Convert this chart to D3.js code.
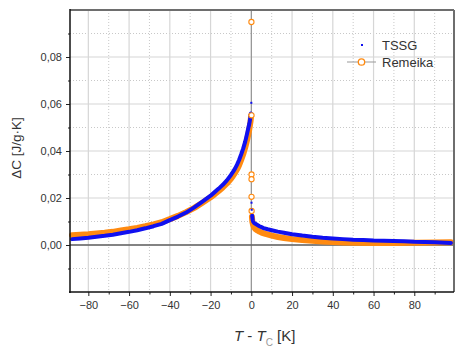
<!DOCTYPE html>
<html>
<head>
<meta charset="utf-8">
<title>Delta C</title>
<script src="https://d3js.org/d3.v7.min.js"></script>
<style>
  body { margin: 0; background: #fff; }
  svg text { font-family: "Liberation Sans", Arial, sans-serif; }
</style>
</head>
<body>
<svg id="canvas" width="463" height="348"></svg>
<script>
// TSSG, main band
var tssgT = [-88,-84,-80,-76,-72,-68,-64,-60,-56,-52,-48,-44,-40,-36,-32,-28,-24,-20,-18,-16,-14,-12,-10,-9,-8,-7,-6,-5,-4,-3,-2.5,-2,-1.5,-1,-0.7,-0.4,-0.2];
var tssgV = [0.0025,0.0028,0.0031,0.0035,0.0039,0.0044,0.0050,0.0056,0.0063,0.0071,0.0080,0.0090,0.0106,0.0121,0.0138,0.0160,0.0185,0.0210,0.0225,0.0240,0.0256,0.0275,0.0298,0.0311,0.0325,0.0342,0.0362,0.0385,0.0410,0.0440,0.0458,0.0477,0.0497,0.0515,0.0530,0.0545,0.0560];
var tssgT2 = [0.4,0.7,1,1.5,2,3,4,5,6,8,10,13,16,20,25,30,35,40,45,50,55,60,65,70,75,80,85,90,95,98];
var tssgV2 = [0.0125,0.0105,0.0098,0.0093,0.0090,0.0085,0.0080,0.0076,0.0072,0.0067,0.0063,0.0057,0.0052,0.0046,0.0040,0.0035,0.0031,0.0028,0.0025,0.0022,0.0021,0.0019,0.0018,0.0017,0.0016,0.0014,0.0013,0.0012,0.0010,0.0009];
var tssgSpikeT = [0, 0.1, 0.2];
var tssgSpikeV = [0.0605, 0.0180, 0.0150];

// Remeika, main band
var remT = [-88,-84,-80,-76,-72,-68,-64,-60,-56,-52,-48,-44,-40,-36,-32,-28,-24,-20,-18,-16,-14,-12,-10,-9,-8,-7,-6,-5,-4,-3,-2.5,-2,-1.5,-1,-0.7,-0.4,-0.2,-0.1];
var remV = [0.0042,0.0044,0.0046,0.0049,0.0052,0.0056,0.0062,0.0067,0.0073,0.0080,0.0088,0.0097,0.0110,0.0124,0.0140,0.0158,0.0180,0.0203,0.0216,0.0230,0.0245,0.0262,0.0282,0.0294,0.0307,0.0322,0.0340,0.0362,0.0386,0.0415,0.0432,0.0450,0.0470,0.0492,0.0508,0.0525,0.0540,0.0550];
var remT2 = [0.3,0.5,0.8,1.2,2,3,4,5,7,10,13,16,20,25,30,35,40,45,50,60,70,80,90,98];
var remV2 = [0.0120,0.0100,0.0088,0.0078,0.0068,0.0062,0.0057,0.0053,0.0047,0.0040,0.0034,0.0030,0.0025,0.0021,0.0018,0.0015,0.0013,0.0011,0.0010,0.0009,0.0009,0.0010,0.0011,0.0012];
var remSpikeT = [0.05, 0.1, 0.1, 0.1, 0.1, 0.15];
var remSpikeV = [0.0949, 0.0552, 0.0300, 0.0280, 0.0205, 0.0145];

var xMajor = [-80,-60,-40,-20,0,20,40,60,80];
var xMinor = [-70,-50,-30,-10,10,30,50,70,90];
var yMajor = [0,0.02,0.04,0.06,0.08];
var yMinor = [-0.01,0.01,0.03,0.05,0.07,0.09];

var L = 70, R = 453, T = 10, B = 292;
var blue = "#1010f0", orange = "#ff8a10";

var svg = d3.select("#canvas");
var x = d3.scaleLinear().domain([-89, 99]).range([L, R]);
var y = d3.scaleLinear().domain([-0.02, 0.1]).range([B, T]);

function pts(ts, vs) { return ts.map(function(t, i){ return [t, vs[i]]; }); }

// grid
svg.append("g").selectAll("line").data(xMinor).enter().append("line")
  .attr("x1", d => x(d)).attr("x2", d => x(d)).attr("y1", T).attr("y2", B)
  .attr("stroke", "#c8c8c8").attr("stroke-dasharray", "1,2");
svg.append("g").selectAll("line").data(yMinor).enter().append("line")
  .attr("y1", d => y(d)).attr("y2", d => y(d)).attr("x1", L).attr("x2", R)
  .attr("stroke", "#c8c8c8").attr("stroke-dasharray", "1,2");
svg.append("g").selectAll("line").data(xMajor).enter().append("line")
  .attr("x1", d => x(d)).attr("x2", d => x(d)).attr("y1", T).attr("y2", B)
  .attr("stroke", "#d6d6d6").attr("stroke-width", 1.2);
svg.append("g").selectAll("line").data(yMajor).enter().append("line")
  .attr("y1", d => y(d)).attr("y2", d => y(d)).attr("x1", L).attr("x2", R)
  .attr("stroke", "#d6d6d6").attr("stroke-width", 1.2);

// zero lines
svg.append("line").attr("x1", x(0)).attr("x2", x(0)).attr("y1", T).attr("y2", B)
  .attr("stroke", "#8a8a8a").attr("stroke-width", 1);
svg.append("line").attr("x1", L).attr("x2", R).attr("y1", y(0)).attr("y2", y(0))
  .attr("stroke", "#606060").attr("stroke-width", 1.5);

var line = d3.line().x(d => x(d[0])).y(d => y(d[1]));

// Remeika bands
[pts(remT, remV), pts(remT2, remV2)].forEach(function(p){
  svg.append("path").attr("d", line(p)).attr("fill", "none")
    .attr("stroke", orange).attr("stroke-width", 6)
    .attr("stroke-linejoin", "round").attr("stroke-linecap", "round");
});
// TSSG bands
[pts(tssgT, tssgV), pts(tssgT2, tssgV2)].forEach(function(p){
  svg.append("path").attr("d", line(p)).attr("fill", "none")
    .attr("stroke", blue).attr("stroke-width", 4)
    .attr("stroke-linejoin", "round").attr("stroke-linecap", "round");
});

// isolated points near Tc
svg.append("g").selectAll("circle").data(pts(remSpikeT, remSpikeV)).enter().append("circle")
  .attr("cx", d => x(d[0])).attr("cy", d => y(d[1])).attr("r", 2.6)
  .attr("fill", "#fff").attr("stroke", orange).attr("stroke-width", 1.1);
svg.append("g").selectAll("rect").data(pts(tssgSpikeT, tssgSpikeV)).enter().append("rect")
  .attr("x", d => x(d[0]) - 1).attr("y", d => y(d[1]) - 1).attr("width", 2).attr("height", 2)
  .attr("fill", blue);

// frame
svg.append("line").attr("x1", L).attr("x2", R + 1).attr("y1", T).attr("y2", T)
  .attr("stroke", "#6e6e6e").attr("stroke-width", 2);
svg.append("line").attr("x1", R + 1).attr("x2", R + 1).attr("y1", T).attr("y2", B)
  .attr("stroke", "#6e6e6e").attr("stroke-width", 2);

// axes
var fmt = function(d){ return d3.format(".2f")(d).replace(".", ","); };
var yAx = svg.append("g").attr("transform", "translate(" + L + ",0)")
  .call(d3.axisLeft(y).tickValues(yMajor).tickSize(4).tickPadding(4).tickFormat(fmt));
var yAxMin = svg.append("g").attr("transform", "translate(" + L + ",0)")
  .call(d3.axisLeft(y).tickValues(yMinor).tickSize(2).tickFormat(""));
var xAx = svg.append("g").attr("transform", "translate(0," + B + ")")
  .call(d3.axisBottom(x).tickValues(xMajor).tickSize(4).tickPadding(5).tickFormat(d3.format("d")));
var xAxMin = svg.append("g").attr("transform", "translate(0," + B + ")")
  .call(d3.axisBottom(x).tickValues(xMinor).tickSize(2.5).tickFormat(""));
[yAx, yAxMin, xAx, xAxMin].forEach(function(g){
  g.select(".domain").remove();
  g.selectAll("line").attr("stroke", "#222");
  g.selectAll("text").attr("fill", "#333").style("font-size", "11px");
});
svg.append("line").attr("x1", L).attr("x2", L).attr("y1", T - 1).attr("y2", B + 1)
  .attr("stroke", "#111").attr("stroke-width", 1.5);
svg.append("line").attr("x1", L - 1).attr("x2", R + 1).attr("y1", B).attr("y2", B)
  .attr("stroke", "#111").attr("stroke-width", 1.5);

// axis titles
svg.append("text").attr("transform", "translate(21,148) rotate(-90)")
  .attr("text-anchor", "middle").attr("fill", "#333").style("font-size", "13.5px")
  .text("ΔC [J/g·K]");
var xt = svg.append("text").attr("x", 234).attr("y", 341).attr("fill", "#333").style("font-size", "15px");
xt.append("tspan").style("font-style", "italic").text("T");
xt.append("tspan").text(" - ");
xt.append("tspan").style("font-style", "italic").text("T");
xt.append("tspan").attr("dy", 5).attr("fill", "#999").style("font-size", "10px").text("C");
xt.append("tspan").attr("dy", -5).text("  [K]");

// legend
svg.append("rect").attr("x", 361).attr("y", 44).attr("width", 2).attr("height", 2).attr("fill", blue);
svg.append("text").attr("x", 382).attr("y", 49.5).attr("fill", "#333").style("font-size", "13px").text("TSSG");
svg.append("line").attr("x1", 347).attr("x2", 376).attr("y1", 62).attr("y2", 62)
  .attr("stroke", "#999").attr("stroke-width", 1);
svg.append("circle").attr("cx", 361.5).attr("cy", 62).attr("r", 3.2)
  .attr("fill", "#fff").attr("stroke", orange).attr("stroke-width", 1.3);
svg.append("text").attr("x", 382).attr("y", 66.5).attr("fill", "#333").style("font-size", "13px").text("Remeika");
</script>
</body>
</html>
